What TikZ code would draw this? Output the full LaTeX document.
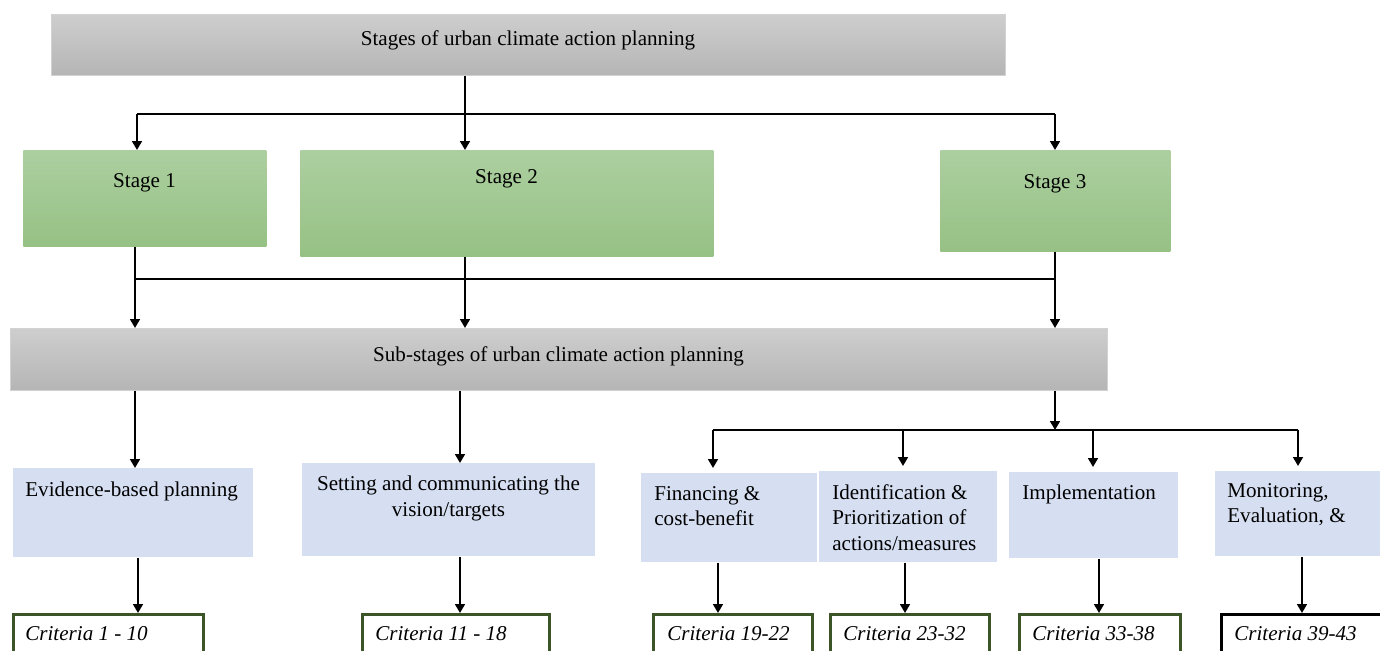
\documentclass[tikz,border=0pt]{standalone}
\usepackage{fontspec}
\setmainfont{Liberation Serif}
\usetikzlibrary{arrows.meta}
\definecolor{graytop}{HTML}{CECECE}
\definecolor{graybot}{HTML}{B5B5B5}
\definecolor{grayedge}{HTML}{D2D2D2}
\definecolor{greentop}{HTML}{ACCFA0}
\definecolor{greenbot}{HTML}{96C184}
\definecolor{paleblue}{HTML}{D6DFF2}
\definecolor{critedge}{HTML}{3C5528}
\begin{document}
\begin{tikzpicture}[x=0.02cm,y=-0.02cm,font=\fontsize{12}{14.5}\selectfont,
  line/.style={line width=1.1pt},
  arr/.style={-{Triangle[width=5.5pt,length=5pt]}},
  graybox/.style={draw=grayedge,top color=graytop,bottom color=graybot,inner sep=0,anchor=north west},
  greenbox/.style={top color=greentop,bottom color=greenbot,inner sep=0,anchor=north west},
  bluebox/.style={fill=paleblue,inner sep=0,anchor=north west},
  critbox/.style={draw=critedge,line width=1.6pt,fill=white,inner sep=0,anchor=north west,minimum height=1.1cm},
  txt/.style={inner sep=0}]
\clip (0,0) rectangle (1380,650);
% boxes
\node[graybox,minimum width=19.08cm,minimum height=1.22cm] (top) at (51,14) {};
\node[greenbox,minimum width=4.86cm,minimum height=1.92cm] (st1) at (23,150) {};
\node[greenbox,minimum width=8.26cm,minimum height=2.12cm] (st2) at (300,150) {};
\node[greenbox,minimum width=4.6cm,minimum height=2.02cm] (st3) at (940,150) {};
\node[graybox,minimum width=21.94cm,minimum height=1.24cm] (sub) at (10,328) {};
\node[bluebox,minimum width=4.8cm,minimum height=1.78cm] (ev) at (13,468) {};
\node[bluebox,minimum width=5.86cm,minimum height=1.86cm] (set) at (302,463) {};
\node[bluebox,minimum width=3.52cm,minimum height=1.78cm] (fin) at (641,473) {};
\node[bluebox,minimum width=3.56cm,minimum height=1.82cm] (idp) at (819,471) {};
\node[bluebox,minimum width=3.38cm,minimum height=1.72cm] (imp) at (1009,472) {};
\node[bluebox,minimum width=3.6cm,minimum height=1.7cm] (mon) at (1215,471) {};
\node[critbox,minimum width=3.8cm] (cra) at (12,613) {};
\node[critbox,minimum width=3.74cm] (crb) at (361,613) {};
\node[critbox,minimum width=3.18cm] (crc) at (652,613) {};
\node[critbox,minimum width=3.18cm] (crd) at (829,613) {};
\node[critbox,minimum width=3.22cm] (cre) at (1018,613) {};
\node[critbox,draw=black,minimum width=3.6cm] (crf) at (1220,613) {};
% texts
\node[txt,anchor=base] (toptxt) at (528,45) {Stages of urban climate action planning};
\node[txt,anchor=base] (st1txt) at (144.5,187) {Stage 1};
\node[txt,anchor=base] (st2txt) at (506.5,183) {Stage 2};
\node[txt,anchor=base] (st3txt) at (1055,188) {Stage 3};
\node[txt,anchor=base] (subtxt) at (558.5,361) {Sub-stages of urban climate action planning};
\node[txt,anchor=base west] (evtxt) at (25,496) {Evidence-based planning};
\node[txt,anchor=north,align=center] (settxt) at (448.5,476) {Setting and communicating the\\vision/targets};
\node[txt,anchor=north west,align=left] (fintxt) at (654,486) {Financing \&\\cost-benefit};
\node[txt,anchor=north west,align=left] (idptxt) at (832,484) {Identification \&\\Prioritization of\\actions/measures};
\node[txt,anchor=base west] (imptxt) at (1022,499) {Implementation};
\node[txt,anchor=north west,align=left] (montxt) at (1227,483) {Monitoring,\\Evaluation, \&};
\foreach \c/\x/\t in {cra/25/1 - 10, crb/375/11 - 18, crc/667/19-22, crd/843/23-32, cre/1032/33-38, crf/1234/39-43}
  \node[txt,anchor=base west] (\c txt) at (\x,640) {\itshape Criteria \t};
% connectors
\coordinate (j) at (465,114);
\coordinate (ja) at (137,114);
\coordinate (jb) at (1055,114);
\draw[line,arr] (top.south -| j) -- (st2.north -| j);
\draw[line] (ja) -- (jb);
\draw[line,arr] (ja) -- (st1.north -| ja);
\draw[line,arr] (jb) -- (st3.north -| jb);
\coordinate (ka) at (135,279);
\coordinate (kb) at (465,279);
\coordinate (kc) at (1055,279);
\draw[line] (ka) -- (kc);
\foreach \s/\k in {st1/ka, st2/kb, st3/kc}
  \draw[line,arr] (\s.south -| \k) -- (sub.north -| \k);
\coordinate (ma) at (135,0);
\coordinate (mb) at (460,0);
\draw[line,arr] (sub.south -| ma) -- (ev.north -| ma);
\draw[line,arr] (sub.south -| mb) -- (set.north -| mb);
\coordinate (d) at (1055,430);
\coordinate (da) at (713,430);
\coordinate (dd) at (1298,430);
\draw[line,arr] (sub.south -| d) -- (d);
\draw[line] (da) -- (dd);
\foreach \n/\x in {fin/713, idp/903, imp/1093, mon/1298} {
  \coordinate (e\n) at (\x,430);
  \draw[line,arr] (e\n) -- ([yshift=0.1cm]\n.north -| e\n);
}
\foreach \a/\b/\x in {ev/cra/138, set/crb/460, fin/crc/718, idp/crd/905, imp/cre/1099, mon/crf/1302} {
  \coordinate (x\b) at (\x,0);
  \draw[line,arr] (\a.south -| x\b) -- (\b.north -| x\b);
}
\end{tikzpicture}
\end{document}
